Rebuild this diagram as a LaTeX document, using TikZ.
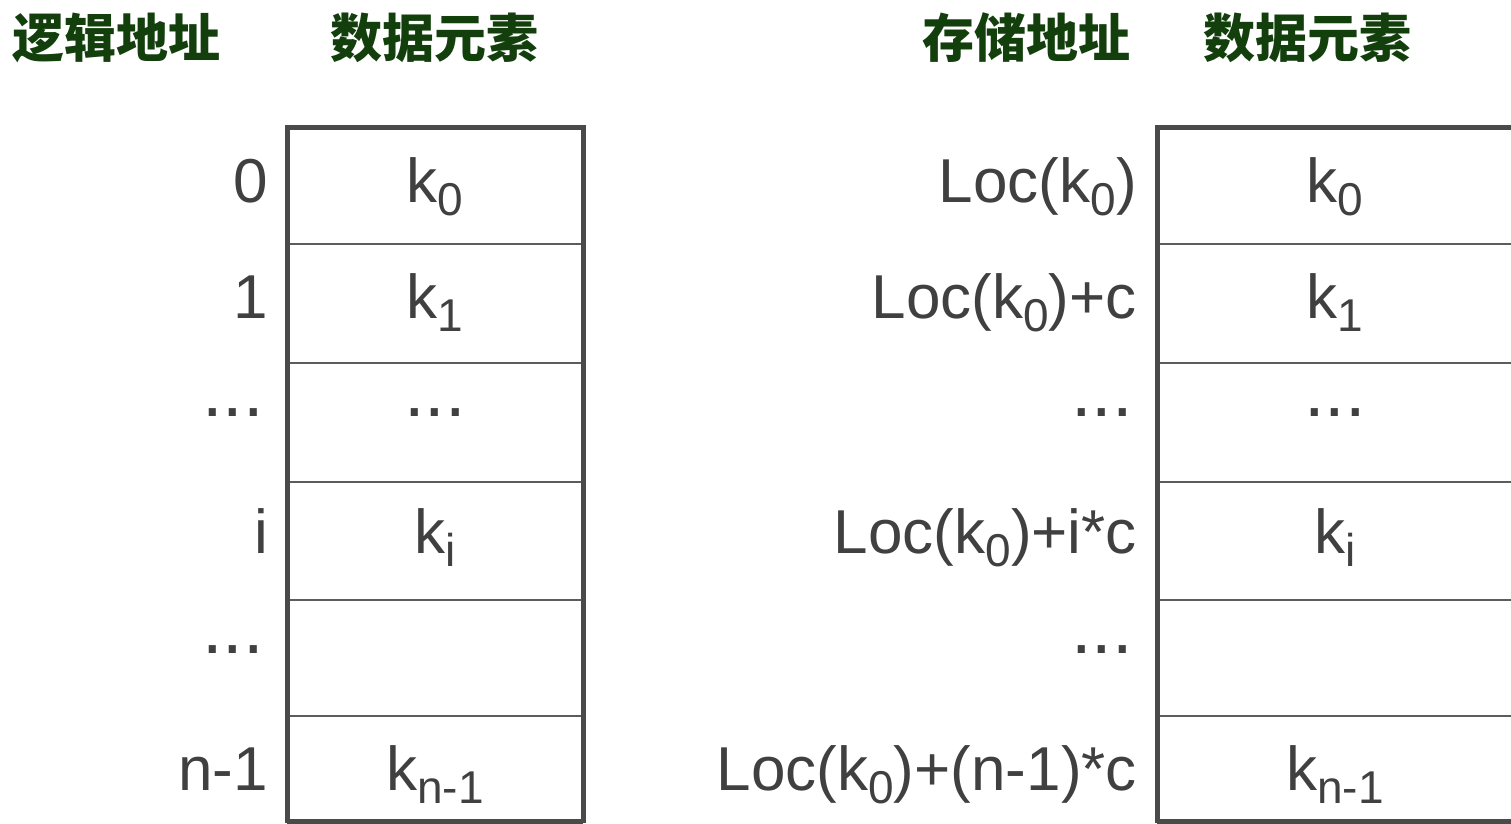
\documentclass[tikz,border=0pt]{standalone}
\usepackage{fontspec}
\setmainfont{Liberation Sans}
\newfontfamily\cjk{Noto Sans CJK SC}
\definecolor{hdr}{HTML}{123F0C}
\definecolor{txt}{HTML}{404040}
\definecolor{bord}{HTML}{4A4A4A}
\newcommand{\sbs}[1]{\raisebox{-13pt}{\fontsize{46}{46}\selectfont #1}}
\newcommand{\dts}{{\fontsize{74}{74}\selectfont ...}}
\tikzset{
  hdrtext/.style={font=\cjk\bfseries\fontsize{52}{52}\selectfont, text=hdr, inner sep=0pt, anchor=base west},
  addr/.style={font=\fontsize{62}{62}\selectfont, text=txt, inner sep=0pt, anchor=base east},
  dat/.style={font=\fontsize{62}{62}\selectfont, text=txt, inner sep=0pt, anchor=base},
  outer/.style={draw=bord, line width=5pt},
  inner/.style={draw=bord!90, line width=2.8pt},
}
\begin{document}
\begin{tikzpicture}[x=1pt,y=-1pt]
\useasboundingbox (0,0) rectangle (1511,823);
\fill[white] (0,0) rectangle (1511,823);
% headers
\node[hdrtext] (h1) at (12,57) {逻辑地址};
\node[hdrtext] (h2) at (330,57) {数据元素};
\node[hdrtext] (h3) at (922,57) {存储地址};
\node[hdrtext] (h4) at (1203,57) {数据元素};
% left table
\foreach \y in {244,363,482,600,716} \draw[inner] (287,\y) -- (583,\y);
\draw[outer] (287,823) -- (287,127) -- (583,127) -- (583,823);
\draw[outer] (287,821) -- (583,821);
% right table
\foreach \y in {244,363,482,600,716} \draw[inner] (1157,\y) -- (1520,\y);
\draw[outer] (1157,823) -- (1157,127) -- (1520,127);
\draw[outer] (1157,821) -- (1520,821);
% left labels
\node[addr] (la0) at (268,202) {0};
\node[addr] (la1) at (268,318) {1};
\node[addr] (la2) at (264,416) {\dts};
\node[addr] (la3) at (268,553) {i};
\node[addr] (la4) at (264,653) {\dts};
\node[addr] (la5) at (268,790) {n-1};
\node[dat] (ld0) at (435,202) {k\sbs{0}};
\node[dat] (ld1) at (435,318) {k\sbs{1}};
\node[dat] (ld2) at (435,416) {\dts};
\node[dat] (ld3) at (435,553) {k\sbs{i}};
\node[dat] (ld5) at (435,790) {k\sbs{n-1}};
% right labels
\node[addr] (ra0) at (1137,202) {Loc(k\sbs{0})};
\node[addr] (ra1) at (1137,318) {Loc(k\sbs{0})+c};
\node[addr] (ra2) at (1133,416) {\dts};
\node[addr] (ra3) at (1137,553) {Loc(k\sbs{0})+i*c};
\node[addr] (ra4) at (1133,653) {\dts};
\node[addr] (ra5) at (1137,790) {Loc(k\sbs{0})+(n-1)*c};
\node[dat] (rd0) at (1335,202) {k\sbs{0}};
\node[dat] (rd1) at (1335,318) {k\sbs{1}};
\node[dat] (rd2) at (1335,416) {\dts};
\node[dat] (rd3) at (1335,553) {k\sbs{i}};
\node[dat] (rd5) at (1335,790) {k\sbs{n-1}};
\end{tikzpicture}
\end{document}
